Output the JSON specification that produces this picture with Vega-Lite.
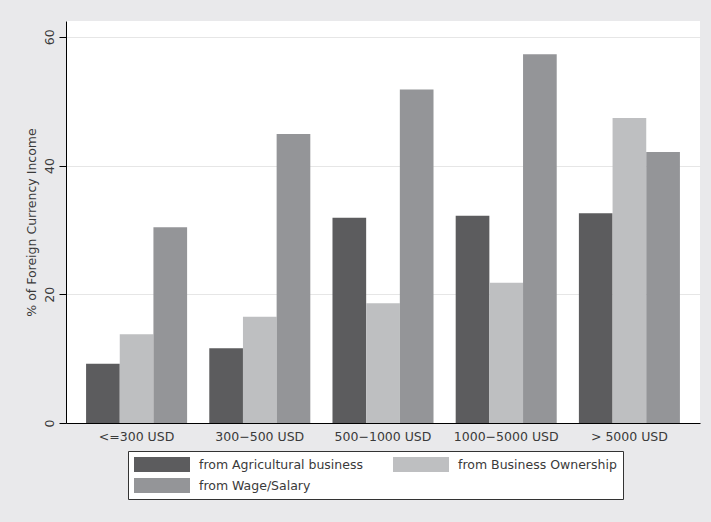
{
  "$schema": "https://vega.github.io/schema/vega-lite/v6.json",
  "width": 634,
  "height": 402,
  "autosize": {"type": "none"},
  "padding": {"left": 66, "top": 21, "right": 11, "bottom": 99},
  "background": "#e9e9eb",
  "config": {
    "view": {"fill": "white", "stroke": null},
    "font": "DejaVu Sans"
  },
  "data": {
    "values": [
      {"income": "<=300 USD", "source": "from Agricultural business", "pct": 9.2},
      {"income": "<=300 USD", "source": "from Business Ownership", "pct": 13.8},
      {"income": "<=300 USD", "source": "from Wage/Salary", "pct": 30.4},
      {"income": "300−500 USD", "source": "from Agricultural business", "pct": 11.6},
      {"income": "300−500 USD", "source": "from Business Ownership", "pct": 16.5},
      {"income": "300−500 USD", "source": "from Wage/Salary", "pct": 44.9},
      {"income": "500−1000 USD", "source": "from Agricultural business", "pct": 31.9},
      {"income": "500−1000 USD", "source": "from Business Ownership", "pct": 18.6},
      {"income": "500−1000 USD", "source": "from Wage/Salary", "pct": 51.8},
      {"income": "1000−5000 USD", "source": "from Agricultural business", "pct": 32.2},
      {"income": "1000−5000 USD", "source": "from Business Ownership", "pct": 21.8},
      {"income": "1000−5000 USD", "source": "from Wage/Salary", "pct": 57.3},
      {"income": "> 5000 USD", "source": "from Agricultural business", "pct": 32.6},
      {"income": "> 5000 USD", "source": "from Business Ownership", "pct": 47.4},
      {"income": "> 5000 USD", "source": "from Wage/Salary", "pct": 42.1}
    ]
  },
  "mark": {"type": "bar"},
  "encoding": {
    "x": {
      "field": "income",
      "type": "nominal",
      "sort": ["<=300 USD", "300−500 USD", "500−1000 USD", "1000−5000 USD", "> 5000 USD"],
      "scale": {"paddingInner": 0.18, "paddingOuter": 0.163},
      "axis": {
        "title": null,
        "labelAngle": 0,
        "ticks": false,
        "domainColor": "#000000",
        "domainWidth": 1,
        "labelFontSize": 12.5,
        "labelColor": "#3a3a3a",
        "labelPadding": 7
      }
    },
    "xOffset": {
      "field": "source",
      "sort": ["from Agricultural business", "from Business Ownership", "from Wage/Salary"]
    },
    "y": {
      "field": "pct",
      "type": "quantitative",
      "scale": {"domain": [0, 62.45], "nice": false},
      "axis": {
        "title": "% of Foreign Currency Income",
        "titleFontSize": 12.5,
        "titleFontWeight": "normal",
        "titleColor": "#3a3a3a",
        "titlePadding": 4.5,
        "values": [0, 20, 40, 60],
        "labelAngle": -90,
        "labelFontSize": 12.5,
        "labelColor": "#3a3a3a",
        "labelPadding": 3,
        "tickSize": 7,
        "tickColor": "#000000",
        "domainColor": "#000000",
        "domainWidth": 1,
        "grid": true,
        "gridColor": "#e6e6e6"
      }
    },
    "color": {
      "field": "source",
      "type": "nominal",
      "scale": {
        "domain": ["from Agricultural business", "from Business Ownership", "from Wage/Salary"],
        "range": ["#5c5c5e", "#bebfc1", "#949598"]
      },
      "legend": {
        "title": null,
        "orient": "none",
        "legendX": 62,
        "legendY": 430,
        "columns": 2,
        "direction": "horizontal",
        "strokeColor": "#333333",
        "fillColor": "#ffffff",
        "padding": 6,
        "symbolType": "M-1,-1H6.467V1H-1Z",
        "symbolSize": 225,
        "symbolStrokeWidth": 0,
        "symbolOpacity": 1,
        "labelFontSize": 12.5,
        "labelLimit": 400,
        "labelColor": "#3a3a3a",
        "labelOffset": 50,
        "columnPadding": 30,
        "rowPadding": 6
      }
    }
  }
}
